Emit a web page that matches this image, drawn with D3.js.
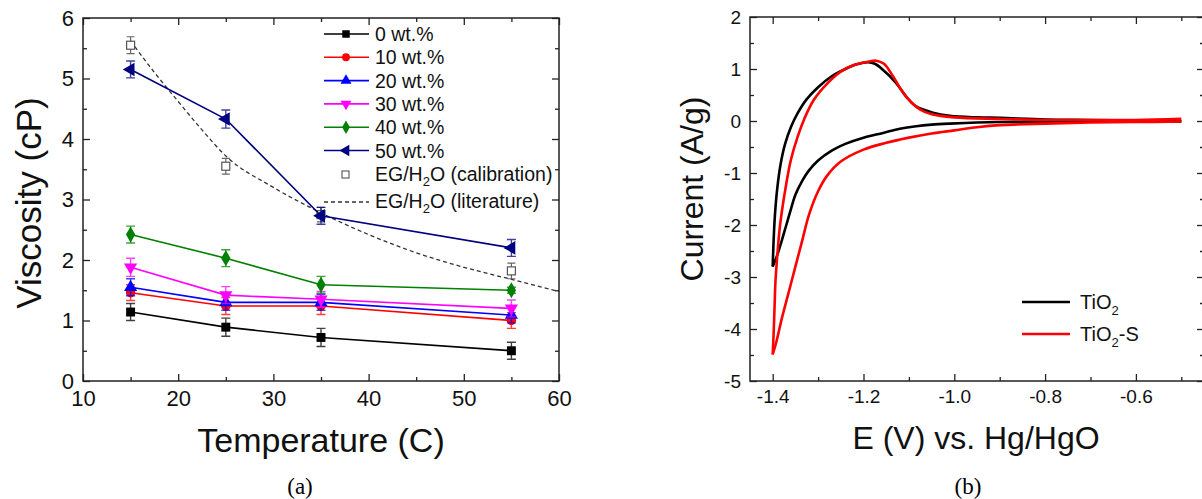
<!DOCTYPE html>
<html>
<head>
<meta charset="utf-8">
<script src="https://cdn.jsdelivr.net/npm/d3@7"></script>
<style>
  body { margin: 0; background: #fff; }
  svg { display: block; font-family: "Liberation Sans", Arial, sans-serif; }
  .frame { fill: none; stroke: #222; stroke-width: 1.5; }
  .axis path { display: none; }
  .axis line { stroke: #222; stroke-width: 1.3; }
  .axis text { fill: #111; font-family: "Liberation Sans", Arial, sans-serif; }
</style>
</head>
<body>
<div id="chart-area"></div>
<script>
// ---- panel (a): viscosity vs temperature ----
var temps = [15, 25, 35, 55];
var visc0  = [1.14, 0.89, 0.72, 0.50];
var visc10 = [1.46, 1.24, 1.24, 1.00];
var visc20 = [1.55, 1.30, 1.30, 1.09];
var visc30 = [1.88, 1.42, 1.35, 1.20];
var visc40 = [2.42, 2.03, 1.59, 1.50];
var visc50 = [5.15, 4.33, 2.73, 2.20];
var err0  = [0.14, 0.15, 0.15, 0.14];
var err10 = [0.13, 0.14, 0.14, 0.13];
var err20 = [0.14, 0.13, 0.13, 0.13];
var err30 = [0.15, 0.14, 0.13, 0.14];
var err40 = [0.14, 0.14, 0.14, 0.05];
var err50 = [0.14, 0.15, 0.14, 0.14];
var calib    = [5.55, 3.55, 2.75, 1.82];
var calibErr = [0.14, 0.13, 0.12, 0.13];
var litT = [15, 17.5, 20, 22.5, 25, 30, 35, 40, 45, 50, 55, 60];
var litV = [5.62, 5.1, 4.62, 4.15, 3.72, 3.2, 2.78, 2.42, 2.12, 1.88, 1.68, 1.48];
var seriesNames = ["0 wt.%", "10 wt.%", "20 wt.%", "30 wt.%", "40 wt.%", "50 wt.%"];
var xTicksA = [10, 20, 30, 40, 50, 60];
var yTicksA = [0, 1, 2, 3, 4, 5, 6];

// ---- panel (b): cyclic voltammetry ----
// [E (V), current (A/g)]
var tio2Up = [[-1.40,-2.80],[-1.398,-2.3],[-1.395,-1.8],[-1.39,-1.3],[-1.383,-0.85],[-1.373,-0.45],
  [-1.36,-0.12],[-1.345,0.15],[-1.325,0.42],[-1.30,0.65],[-1.27,0.86],[-1.24,1.0],[-1.215,1.09],
  [-1.19,1.13],[-1.175,1.1],[-1.158,0.99],[-1.128,0.73],[-1.106,0.47],[-1.084,0.28],[-1.047,0.16],
  [-1.01,0.1],[-0.95,0.07],[-0.9,0.06],[-0.8,0.03],[-0.7,0.02],[-0.6,0.01],[-0.5,0.0]];
var tio2Down = [[-0.5,-0.01],[-0.7,-0.01],[-0.9,-0.02],[-0.95,-0.03],[-1.01,-0.05],[-1.05,-0.07],
  [-1.084,-0.1],[-1.12,-0.15],[-1.157,-0.23],[-1.2,-0.32],[-1.24,-0.44],[-1.27,-0.57],[-1.30,-0.76],
  [-1.32,-0.95],[-1.335,-1.15],[-1.35,-1.42],[-1.36,-1.7],[-1.37,-2.0],[-1.38,-2.3],[-1.39,-2.58],
  [-1.40,-2.80]];
var tio2sUp = [[-1.40,-4.49],[-1.398,-4.1],[-1.396,-3.6],[-1.394,-3.1],[-1.39,-2.6],[-1.385,-2.1],
  [-1.38,-1.75],[-1.37,-1.2],[-1.36,-0.75],[-1.345,-0.3],[-1.33,0.05],[-1.31,0.4],[-1.28,0.72],
  [-1.25,0.95],[-1.22,1.08],[-1.19,1.14],[-1.172,1.16],[-1.155,1.1],[-1.135,0.86],[-1.115,0.57],
  [-1.095,0.36],[-1.075,0.22],[-1.05,0.13],[-1.0,0.07],[-0.9,0.04],[-0.8,0.02],[-0.7,0.02],
  [-0.6,0.02],[-0.5,0.04]];
var tio2sDown = [[-0.5,-0.01],[-0.6,-0.02],[-0.7,-0.03],[-0.8,-0.05],[-0.9,-0.08],[-0.95,-0.12],
  [-1.0,-0.18],[-1.05,-0.24],[-1.1,-0.32],[-1.15,-0.42],[-1.2,-0.55],[-1.25,-0.78],[-1.28,-1.05],
  [-1.30,-1.35],[-1.32,-1.8],[-1.335,-2.3],[-1.35,-2.8],[-1.365,-3.3],[-1.38,-3.8],[-1.392,-4.25],
  [-1.40,-4.49]];
var xTicksB = [-1.4, -1.2, -1.0, -0.8, -0.6];
var yTicksB = [-5, -4, -3, -2, -1, 0, 1, 2];

var width = 1202, height = 499;
var svg = d3.select("#chart-area").append("svg")
    .attr("width", width)
    .attr("height", height);

// inward ticks on all four sides
function boxAxes(g, x, y, xMajor, xMinor, yMajor, yMinor, fs, fmtX, fmtY) {
    var x0 = x.range()[0], x1 = x.range()[1];
    var yb = y.range()[0], yt = y.range()[1];
    g.append("g").attr("class", "axis").attr("transform", "translate(0," + yb + ")")
        .call(d3.axisBottom(x).tickValues(xMajor).tickSizeInner(-7).tickSizeOuter(0).tickPadding(9).tickFormat(fmtX))
        .selectAll("text").attr("font-size", fs + "px");
    g.append("g").attr("class", "axis").attr("transform", "translate(0," + yb + ")")
        .call(d3.axisBottom(x).tickValues(xMinor).tickSizeInner(-4).tickSizeOuter(0).tickFormat(""));
    g.append("g").attr("class", "axis").attr("transform", "translate(0," + yt + ")")
        .call(d3.axisTop(x).tickValues(xMajor).tickSizeInner(-7).tickSizeOuter(0).tickFormat(""));
    g.append("g").attr("class", "axis").attr("transform", "translate(0," + yt + ")")
        .call(d3.axisTop(x).tickValues(xMinor).tickSizeInner(-4).tickSizeOuter(0).tickFormat(""));
    g.append("g").attr("class", "axis").attr("transform", "translate(" + x0 + ",0)")
        .call(d3.axisLeft(y).tickValues(yMajor).tickSizeInner(-7).tickSizeOuter(0).tickPadding(9).tickFormat(fmtY))
        .selectAll("text").attr("font-size", fs + "px");
    g.append("g").attr("class", "axis").attr("transform", "translate(" + x0 + ",0)")
        .call(d3.axisLeft(y).tickValues(yMinor).tickSizeInner(-4).tickSizeOuter(0).tickFormat(""));
    g.append("g").attr("class", "axis").attr("transform", "translate(" + x1 + ",0)")
        .call(d3.axisRight(y).tickValues(yMajor).tickSizeInner(-7).tickSizeOuter(0).tickFormat(""));
    g.append("g").attr("class", "axis").attr("transform", "translate(" + x1 + ",0)")
        .call(d3.axisRight(y).tickValues(yMinor).tickSizeInner(-4).tickSizeOuter(0).tickFormat(""));
    g.append("rect").attr("class", "frame")
        .attr("x", x0).attr("y", yt).attr("width", x1 - x0).attr("height", yb - yt);
}

// ================= panel (a) =================
var ga = svg.append("g");
var xA = d3.scaleLinear().domain([10, 60]).range([83, 559]);
var yA = d3.scaleLinear().domain([0, 6]).range([381, 18]);

var seriesA = [
    {name: seriesNames[0], v: visc0,  e: err0,  color: "#000000", sym: d3.symbolSquare,   rot: 0,   size: 80},
    {name: seriesNames[1], v: visc10, e: err10, color: "#ff0000", sym: d3.symbolCircle,   rot: 0,   size: 70},
    {name: seriesNames[2], v: visc20, e: err20, color: "#0000ff", sym: d3.symbolTriangle, rot: 0,   size: 75},
    {name: seriesNames[3], v: visc30, e: err30, color: "#ff00ff", sym: d3.symbolTriangle, rot: 180, size: 75},
    {name: seriesNames[4], v: visc40, e: err40, color: "#008000", sym: d3.symbolDiamond,  rot: 0,   size: 75},
    {name: seriesNames[5], v: visc50, e: err50, color: "#000080", sym: d3.symbolTriangle, rot: -90, size: 80}
];

var lineA = d3.line().x(d => xA(d[0])).y(d => yA(d[1]));

// literature dashed curve
ga.append("path")
    .datum(litT.map((t, i) => [t, litV[i]]))
    .attr("d", d3.line().x(d => xA(d[0])).y(d => yA(d[1])).curve(d3.curveMonotoneX))
    .attr("fill", "none")
    .attr("stroke", "#333")
    .attr("stroke-width", 1.3)
    .attr("stroke-dasharray", "4,3");

// calibration open squares + error bars
temps.forEach((t, i) => {
    var cx = xA(t);
    ga.append("path")
        .attr("d", "M" + cx + "," + yA(calib[i] + calibErr[i]) + "V" + yA(calib[i] - calibErr[i]) +
            "M" + (cx - 4) + "," + yA(calib[i] + calibErr[i]) + "h8" +
            "M" + (cx - 4) + "," + yA(calib[i] - calibErr[i]) + "h8")
        .attr("stroke", "#666").attr("stroke-width", 1.2).attr("fill", "none");
    ga.append("rect")
        .attr("x", cx - 4).attr("y", yA(calib[i]) - 4)
        .attr("width", 8).attr("height", 8)
        .attr("fill", "#fff").attr("stroke", "#555").attr("stroke-width", 1.2);
});

seriesA.forEach(s => {
    var pts = temps.map((t, i) => [t, s.v[i], s.e[i]]);
    var g = ga.append("g");
    g.selectAll(".eb").data(pts).enter().append("path")
        .attr("d", d => {
            var cx = xA(d[0]), top = yA(d[1] + d[2]), bot = yA(d[1] - d[2]);
            return "M" + cx + "," + top + "V" + bot + "M" + (cx - 4.5) + "," + top + "h9" +
                "M" + (cx - 4.5) + "," + bot + "h9";
        })
        .attr("stroke", s.color).attr("stroke-opacity", 0.75)
        .attr("stroke-width", 1.4).attr("fill", "none");
    g.append("path").datum(pts)
        .attr("d", lineA)
        .attr("fill", "none").attr("stroke", s.color).attr("stroke-width", 1.6);
    g.selectAll(".mk").data(pts).enter().append("path")
        .attr("d", d3.symbol().type(s.sym).size(s.size))
        .attr("transform", d => "translate(" + xA(d[0]) + "," + yA(d[1]) + ") rotate(" + s.rot + ")")
        .attr("fill", s.color);
});

boxAxes(ga, xA, yA, xTicksA, [15, 25, 35, 45, 55], yTicksA, [0.5, 1.5, 2.5, 3.5, 4.5, 5.5], 22,
    d3.format("d"), d3.format("d"));

// legend (a)
var legA = ga.append("g").attr("transform", "translate(324,0)");
seriesA.forEach((s, i) => {
    var ly = 34 + i * 23.3;
    legA.append("line").attr("x1", 0).attr("x2", 45).attr("y1", ly).attr("y2", ly)
        .attr("stroke", s.color).attr("stroke-width", 1.6);
    legA.append("path").attr("d", d3.symbol().type(s.sym).size(s.size * 0.7))
        .attr("transform", "translate(22," + ly + ") rotate(" + s.rot + ")")
        .attr("fill", s.color);
    legA.append("text").attr("x", 51).attr("y", ly + 7)
        .attr("font-size", "19.5px").attr("fill", "#111").text(s.name);
});
function egText(sel, suffix) {
    sel.append("tspan").text("EG/H");
    sel.append("tspan").attr("dy", 5).attr("font-size", "13px").text("2");
    sel.append("tspan").attr("dy", -5).text("O " + suffix);
}
legA.append("rect").attr("x", 18).attr("y", 171).attr("width", 7).attr("height", 7)
    .attr("fill", "#fff").attr("stroke", "#555").attr("stroke-width", 1.1);
egText(legA.append("text").attr("x", 51).attr("y", 181).attr("font-size", "19.5px").attr("fill", "#111"),
    "(calibration)");
legA.append("line").attr("x1", 0).attr("x2", 45).attr("y1", 202).attr("y2", 202)
    .attr("stroke", "#333").attr("stroke-width", 1.3).attr("stroke-dasharray", "4,3");
egText(legA.append("text").attr("x", 51).attr("y", 208).attr("font-size", "19.5px").attr("fill", "#111"),
    "(literature)");

ga.append("text")
    .attr("x", 321).attr("y", 452)
    .attr("font-size", "34px").attr("text-anchor", "middle").attr("fill", "#111")
    .text("Temperature (C)");
ga.append("text")
    .attr("transform", "translate(41,203) rotate(-90)")
    .attr("font-size", "35px").attr("text-anchor", "middle").attr("fill", "#111")
    .text("Viscosity (cP)");
ga.append("text")
    .attr("x", 300).attr("y", 494)
    .attr("font-family", "'Liberation Serif', 'Times New Roman', serif")
    .attr("font-size", "23px").attr("text-anchor", "middle").attr("fill", "#000")
    .text("(a)");

// ================= panel (b) =================
var gb = svg.append("g");
var xB = d3.scaleLinear().domain([-1.45, -0.45]).range([750, 1204]);
var yB = d3.scaleLinear().domain([-5, 2]).range([381, 17]);
var lineB = d3.line().x(d => xB(d[0])).y(d => yB(d[1])).curve(d3.curveCatmullRom.alpha(0.5));

var cv = [
    {name: "TiO2",   color: "#000000", branches: [tio2Up, tio2Down]},
    {name: "TiO2-S", color: "#ff0000", branches: [tio2sUp, tio2sDown]}
];
cv.forEach(c => {
    c.branches.forEach(b => {
        gb.append("path").datum(b)
            .attr("d", lineB)
            .attr("fill", "none").attr("stroke", c.color)
            .attr("stroke-width", 2.6).attr("stroke-linejoin", "round");
    });
});

boxAxes(gb, xB, yB, xTicksB, [-1.3, -1.1, -0.9, -0.7, -0.5], yTicksB,
    [-4.5, -3.5, -2.5, -1.5, -0.5, 0.5, 1.5], 19, d3.format(".1f"), d3.format("d"));
gb.selectAll(".axis text").text(function() { return d3.select(this).text().replace("\u2212", "-"); });

// legend (b)
var legB = gb.append("g").attr("transform", "translate(1022,0)");
[["TiO", "2", ""], ["TiO", "2", "-S"]].forEach((lab, i) => {
    var ly = 302 + i * 32;
    legB.append("line").attr("x1", 0).attr("x2", 48).attr("y1", ly).attr("y2", ly)
        .attr("stroke", cv[i].color).attr("stroke-width", 2.6);
    var t = legB.append("text").attr("x", 58).attr("y", ly + 7)
        .attr("font-size", "20px").attr("fill", "#111");
    t.append("tspan").text(lab[0]);
    t.append("tspan").attr("dy", 6).attr("font-size", "13px").text(lab[1]);
    t.append("tspan").attr("dy", -6).text(lab[2]);
});

gb.append("text")
    .attr("x", 976).attr("y", 449)
    .attr("font-size", "32px").attr("text-anchor", "middle").attr("fill", "#111")
    .text("E (V) vs. Hg/HgO");
gb.append("text")
    .attr("transform", "translate(703,189) rotate(-90)")
    .attr("font-size", "32px").attr("text-anchor", "middle").attr("fill", "#111")
    .text("Current (A/g)");
gb.append("text")
    .attr("x", 968).attr("y", 494)
    .attr("font-family", "'Liberation Serif', 'Times New Roman', serif")
    .attr("font-size", "23px").attr("text-anchor", "middle").attr("fill", "#000")
    .text("(b)");
</script>
</body>
</html>
